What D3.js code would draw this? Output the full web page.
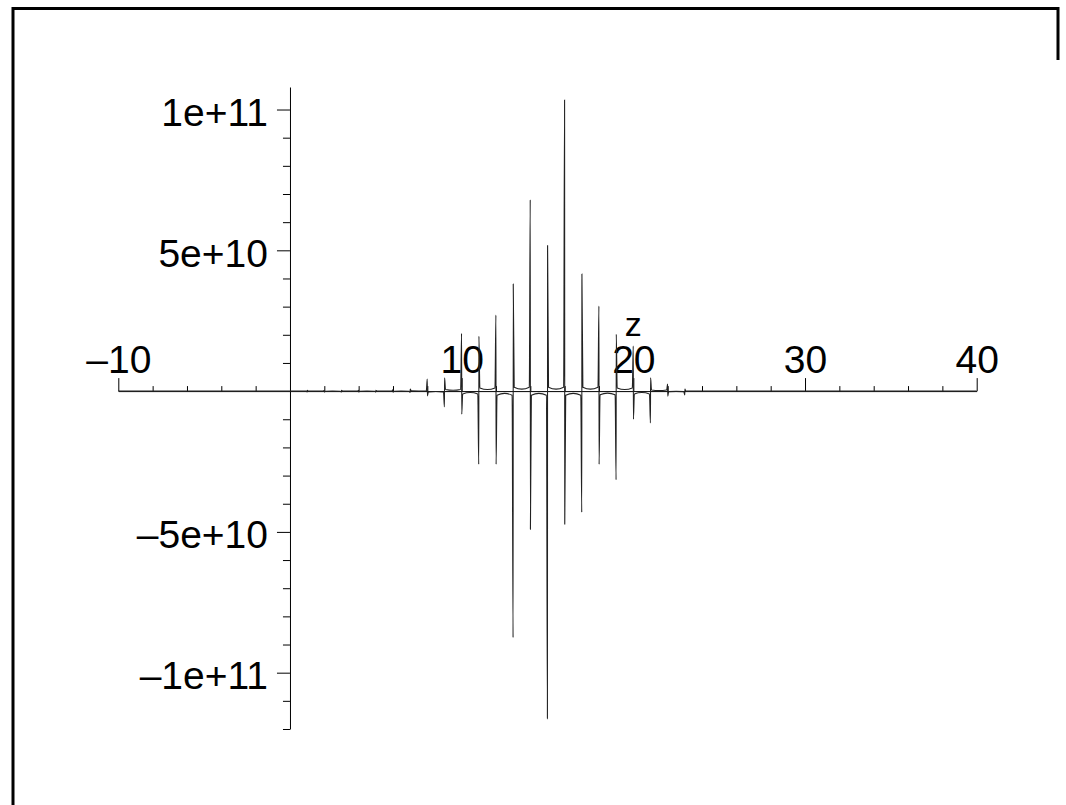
<!DOCTYPE html>
<html>
<head>
<meta charset="utf-8">
<script src="https://cdn.jsdelivr.net/npm/d3@7"></script>
<style>
  body { margin: 0; background: #fff; }
  svg text { font-family: "Liberation Sans", Arial, Helvetica, sans-serif; fill: #000; }
</style>
</head>
<body>
<svg id="chart" width="1066" height="805"></svg>
<script>
// ---- data (values in units of 1e9) ----
var poles     = [1, 2, 3, 4, 5, 6, 7, 8, 9, 10, 11, 12, 13, 14, 15, 16, 17, 18, 19, 20, 21, 22, 23];
// height reached on the positive side of each pole
var upSpike   = [0.3, 0.3, 0.3, 0.3, 0.3, 0.5, 0.7, 4.3, 4.7, 20.5, 19.5, 27, 38, 68, 51.8, 103.4, 41.6, 30.2, 20.2, 16, 4.7, 2.5, 0.7];
// depth reached on the negative side of each pole
var downSpike = [0.3, 0.3, 0.3, 0.3, 0.3, 0.4, 0.5, 1.7, 5.6, 8.2, 26, 26, 87.5, 49.1, 116.3, 47.4, 43, 26, 31.5, 10, 11.3, 1.8, 1.4];
// |value| in the middle of each gap between poles, and close to the poles
var gapMid    = [0.02, 0.02, 0.02, 0.02, 0.02, 0.02, 0.05, 0.15, 0.3, 0.5, 0.55, 0.8, 0.7, 0.8, 0.7, 0.8, 0.7, 0.7, 0.55, 0.5, 0.2, 0.1];
var gapEdge   = [0.04, 0.04, 0.04, 0.04, 0.04, 0.04, 0.1, 0.3, 0.6, 1.0, 1.1, 1.5, 1.4, 1.5, 1.4, 1.5, 1.4, 1.3, 1.1, 1.0, 0.4, 0.2];

var xMajor = [-10, 10, 20, 30, 40];
var xMinor = [-8, -6, -4, -2, 2, 4, 6, 8, 12, 14, 16, 18, 22, 24, 26, 28, 32, 34, 36, 38];
var yMajor = [-1e11, -5e10, 5e10, 1e11];
var yLabels = ["\u20131e+11", "\u20135e+10", "5e+10", "1e+11"];
var yMinor = [-12, -11, -9, -8, -7, -6, -4, -3, -2, -1, 1, 2, 3, 4, 6, 7, 8, 9].map(function(d){ return d * 1e10; });

var svg = d3.select("#chart");

//--------------------------------- frame ---------------------------------//
svg.append("path")
    .attr("d", "M13,805V8.5H1058V60")
    .attr("fill", "none")
    .attr("stroke", "#000")
    .attr("stroke-width", 3);

//--------------------------------- scales ---------------------------------//
var x = d3.scaleLinear().domain([-10, 40]).range([118.3, 976.7]);
var y = d3.scaleLinear().domain([-1.2e11, 1.08e11]).range([729, 87]);

//--------------------------------- build curve points ---------------------------------//
var eps = 0.005, edgeOff = 0.06;
var pts = [[-10, 0], [poles[0] - edgeOff, 0]];
poles.forEach(function(p, i) {
    var odd = (p % 2 === 1);
    // odd pole: negative on the left, positive on the right; even pole the other way
    if (odd) {
        pts.push([p - eps, -downSpike[i] * 1e9]);
        pts.push([p + eps,  upSpike[i] * 1e9]);
    } else {
        pts.push([p - eps,  upSpike[i] * 1e9]);
        pts.push([p + eps, -downSpike[i] * 1e9]);
    }
    if (i < poles.length - 1) {
        var s = odd ? 1 : -1;
        pts.push([p + edgeOff, s * gapEdge[i] * 1e9]);
        pts.push([p + 0.5, s * gapMid[i] * 1e9]);
        pts.push([poles[i + 1] - edgeOff, s * gapEdge[i] * 1e9]);
    }
});
pts.push([poles[poles.length - 1] + edgeOff, 0]);
pts.push([40, 0]);

//--------------------------------- axes ---------------------------------//
var xAxisG = svg.append("g").attr("transform", "translate(0," + y(0) + ")");
xAxisG.call(d3.axisTop(x).tickValues(xMinor).tickSize(5).tickSizeOuter(0).tickFormat(""));
var xMaj = svg.append("g").attr("transform", "translate(0," + y(0) + ")")
    .call(d3.axisTop(x).tickValues(xMajor).tickSize(13).tickSizeOuter(0).tickPadding(5.5)
        .tickFormat(function(d){ return d < 0 ? "\u2013" + Math.abs(d) : d; }));
xMaj.select(".domain").remove();

var yAxisG = svg.append("g").attr("transform", "translate(" + x(0) + ",0)");
yAxisG.call(d3.axisLeft(y).tickValues(yMinor).tickSize(7).tickSizeOuter(0).tickFormat(""));
var yMaj = svg.append("g").attr("transform", "translate(" + x(0) + ",0)")
    .call(d3.axisLeft(y).tickValues(yMajor).tickSize(13).tickSizeOuter(0).tickPadding(9)
        .tickFormat(function(d, i){ return yLabels[i]; }));
yMaj.select(".domain").remove();
yMaj.selectAll("text").attr("dy", "0.41em");

svg.selectAll(".tick line, .domain").attr("stroke", "#000");
svg.selectAll(".tick text")
    .style("font-family", "'Liberation Sans', Arial, Helvetica, sans-serif")
    .style("font-size", "39px")
    .attr("fill", "#000");

//--------------------------------- curve ---------------------------------//
svg.append("path")
    .datum(pts)
    .attr("fill", "none")
    .attr("stroke", "#222")
    .attr("stroke-width", 1.1)
    .attr("d", d3.line()
        .x(function(d){ return x(d[0]); })
        .y(function(d){ return y(d[1]); })
        .curve(d3.curveMonotoneX));

//--------------------------------- axis label ---------------------------------//
svg.append("text")
    .attr("x", x(20))
    .attr("y", 336)
    .attr("text-anchor", "middle")
    .style("font-size", "34px")
    .text("z");
</script>
</body>
</html>
